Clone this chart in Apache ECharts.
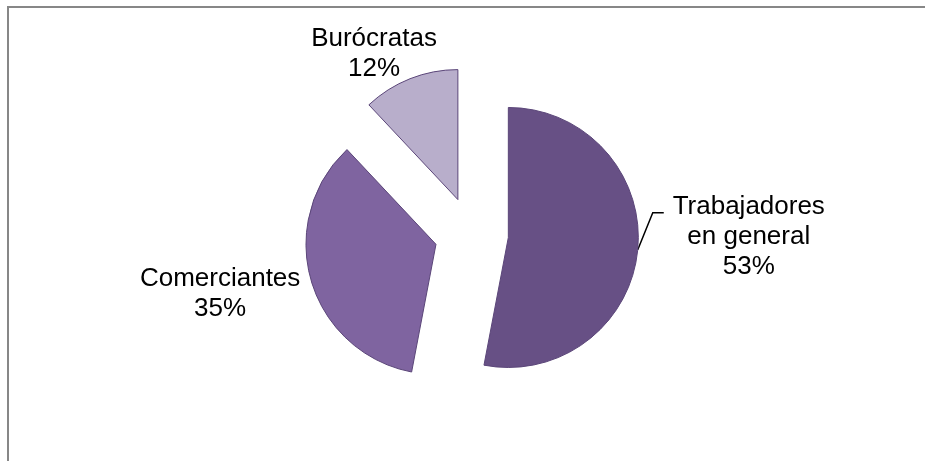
<!DOCTYPE html>
<html>
<head>
<meta charset="utf-8">
<script src="https://cdn.jsdelivr.net/npm/echarts@6/dist/echarts.min.js"></script>
<style>
  html, body { margin: 0; padding: 0; background: #fff; overflow: hidden; }
  #chart { width: 925px; height: 461px; }
</style>
</head>
<body>
<div id="chart"></div>
<script>
// Distribución por ocupación
const categories = ['Trabajadores en general', 'Comerciantes', 'Burócratas'];
const labelNames = ['Trabajadores\nen general', 'Comerciantes', 'Burócratas'];
const values = [53, 35, 12];

// Appearance
const sliceColors = ['#675085', '#7F64A0', '#B8AECB'];
const sliceBorder = '#5B4679';
const pieCenter = [471.5, 234];
const pieRadius = 130;
const explode = 37;
// label placement relative to each slice's outer edge point (along mid-angle)
const labelOffsets = [[85, 24], [-91, 13], [-36, -25]];
// leader line for the first slice: up-right, then a short horizontal tail
const leaderBend = [15, -37];
const leaderTail = 11;

const total = values.reduce((a, b) => a + b, 0);
const rad = Math.PI / 180;

// mid-angle of each slice, measured clockwise from 12 o'clock
const midAngles = [];
let acc = 0;
values.forEach(v => {
  midAngles.push((acc + v / 2) / total * 360);
  acc += v;
});

function dir(deg) {
  return [Math.sin(deg * rad), -Math.cos(deg * rad)];
}

const series = values.map((_, i) => {
  const d = dir(midAngles[i]);
  const c = [pieCenter[0] + explode * d[0], pieCenter[1] + explode * d[1]];
  const edge = [c[0] + pieRadius * d[0], c[1] + pieRadius * d[1]];
  const hasLeader = i === 0;
  return {
    type: 'pie',
    center: c,
    radius: pieRadius,
    startAngle: 90,
    clockwise: true,
    avoidLabelOverlap: false,
    silent: true,
    animation: false,
    data: values.map((v, j) => ({
      name: categories[j],
      value: v,
      itemStyle: j === i
        ? { color: sliceColors[j], borderColor: sliceBorder, borderWidth: 1 }
        : { color: 'rgba(0,0,0,0)', borderWidth: 0 },
      label: { show: j === i },
      labelLine: { show: j === i && hasLeader }
    })),
    label: {
      position: 'outside',
      formatter: () => labelNames[i] + '\n' + Math.round(values[i] / total * 100) + '%',
      fontFamily: 'Liberation Sans, Arial, sans-serif',
      fontSize: 26,
      lineHeight: 30,
      color: '#000'
    },
    labelLine: {
      show: hasLeader,
      length: 20,
      length2: 10,
      lineStyle: { color: '#000', width: 1.5 }
    },
    labelLayout: function () {
      if (hasLeader) {
        const p1 = [edge[0] + leaderBend[0], edge[1] + leaderBend[1]];
        const p2 = [p1[0] + leaderTail, p1[1]];
        return {
          x: p2[0] + labelOffsets[i][0],
          y: p2[1] + labelOffsets[i][1],
          align: 'center',
          verticalAlign: 'middle',
          labelLinePoints: [edge, p1, p2]
        };
      }
      return {
        x: edge[0] + labelOffsets[i][0],
        y: edge[1] + labelOffsets[i][1],
        align: 'center',
        verticalAlign: 'middle'
      };
    }
  };
});

const chart = echarts.init(document.getElementById('chart'), null, { renderer: 'canvas' });
const frameStyle = { stroke: '#878787', lineWidth: 2 };
chart.setOption({
  backgroundColor: '#fff',
  animation: false,
  // chart frame: only its top and left edges fall inside the canvas
  graphic: [
    { type: 'line', shape: { x1: 7, y1: 7, x2: 925, y2: 7 }, style: frameStyle, silent: true, z: -1 },
    { type: 'line', shape: { x1: 8, y1: 6, x2: 8, y2: 461 }, style: frameStyle, silent: true, z: -1 }
  ],
  series: series
});
</script>
</body>
</html>
